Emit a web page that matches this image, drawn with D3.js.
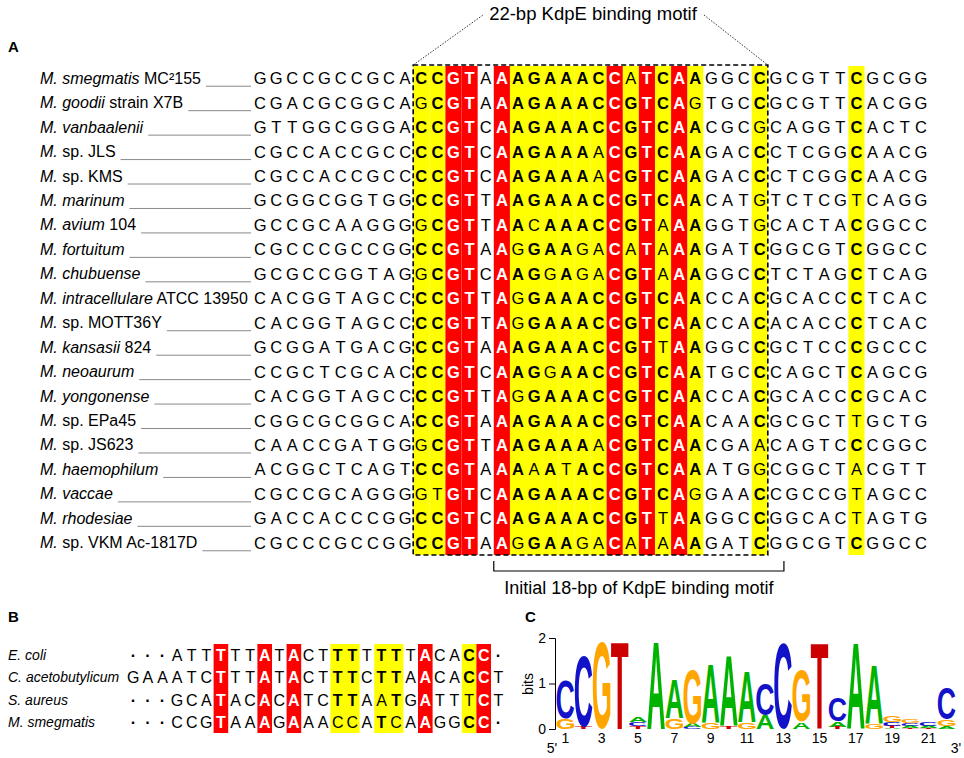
<!DOCTYPE html>
<html><head><meta charset="utf-8">
<script src="https://cdn.jsdelivr.net/npm/d3@7"></script>
<style>body{margin:0;background:#fff} svg{display:block}</style>
</head><body>
<svg id="chart" width="964" height="758"></svg>
<script>
// ---------------- Panel A data ----------------
const speciesItalic = ["M. smegmatis","M. goodii","M. vanbaalenii","M.","M.","M. marinum","M. avium","M. fortuitum","M. chubuense","M. intracellulare","M.","M. kansasii","M. neoaurum","M. yongonense","M.","M.","M. haemophilum","M. vaccae","M. rhodesiae","M."];
const strainSuffix = [" MC²155"," strain X7B",""," sp. JLS"," sp. KMS",""," 104","",""," ATCC 13950"," sp. MOTT36Y"," 824","",""," sp. EPa45"," sp. JS623","","",""," sp. VKM Ac-1817D"];
const leftFlank = ["GGCCGCCGCA","CGACGCGGCA","GTTGGCGGGA","CGCCACCGCC","CGCCACCGCC","GCGGCGGTGG","GCCGCAAGGG","CGCCCGCCGG","GCGCCGGTAG","CACGGTAGCC","CACGGTAGCC","GCGGATGACG","CCGCTCGCAC","CACGGTAGCC","CGGCGCGGCA","CAACCGATGG","ACGGCTCAGT","CGCCGCAGGG","GACCACCCGG","CGCCCGCCGG"];
const motifSeq = ["CCGTAAAGAAACCATCAAGGCC","GCGTAAAGAAACCGTCAGTGCC","CCGTCAAGAAACCGTCAACGCG","CCGTCAAGAAAACGTCAAGACC","CCGTCAAGAAAACGTCAAGACC","CCGTTAAGAAACCGTCAACATG","GCGTTAACAAACCGTAAAGGTG","CCGTAAGGAAGACATAAAGATC","GCGTCAAGGAGACGTAAAGGCC","CCGTTAGGAAACCGTCAACCAC","CCGTTAGGAAACCGTCAACCAC","CCGTAAAGAAACCGTTAAGGCC","CCGTCAAGGAACCGTCAATGCC","CCGTTAGGAAACCGTCAACCAC","CCGTAAAGAAACCGTCAACAAC","GCGTTAAGAAAACGTCAACGAA","CCGTAAAAATACCGTCAAATGG","GTGTCAAGAAACCGTCAGGAAC","CCGTCAAGAAACCGTTAAGGCC","CCGTAAGGAAGACATAAAGATC"];
const rightFlank = ["GCGTTCGCGG","GCGTTCACGG","CAGGTCACTC","CTCGGCAACG","CTCGGCAACG","TCTCGTCAGG","CACTACGGCC","GGCGTCGGCC","TCTAGCTCAG","GCACCCTCAC","ACACCCTCAC","GCTCCCGCCC","CAGCTCAGCG","GCACCCGCAC","GCGCTTGCTG","CAGTCCCGGC","CGGCTACGTT","CGCCGTAGCC","GGCACTAGTG","GGCGTCGGCC"];
const redMotifPos = [3,4,6,13,15,17];
const yellowMotifPos = [1,2,7,8,9,10,11,12,14,16,18,22];
const yellowRightPos = [6];
const consensusMotif = "CCGTNAAGAAACCGTCAANNNC";
const consensusRight = "NNNNNCNNNN";

// ---------------- Panel B data ----------------
const bNames = ["E. coli","C. acetobutylicum","S. aureus","M. smegmatis"];
const bSeqs = ["...ATTTTTATACTTTTTTTACACC.","GAAATCTTTATACTTTCTTAACACCT","...GCATACACATCTTAATGATTTCT","...CCGTAAAGAAACCATCAAGGCC."];
const bRed = [7,10,12,21,25];
const bYellow = [15,16,18,19,24];
const bConsensus = "......T..A.A..TT.TT.A..CC.";

// ---------------- Panel C data (bits) ----------------
const logoPos = d3.range(1,23);
const logoTicks = [1,3,5,7,9,11,13,15,17,19,21];
const bitsA = [0,0,0,0,0.12,1.9,0.84,0.07,1.28,1.54,1.12,0.3,0,0.15,0,0.12,1.89,1.29,0.03,0.05,0.04,0.06];
const bitsC = [0.85,1.55,0,0,0.09,0,0,0.05,0,0,0,0.7,1.89,0,0,0.53,0,0,0.08,0.05,0.07,0.69];
const bitsG = [0.22,0,1.9,0,0,0,0.24,1.2,0.13,0,0.15,0,0,1.12,0,0,0,0.12,0.13,0.08,0,0.15];
const bitsT = [0,0.05,0,1.9,0.06,0,0,0,0,0.06,0,0,0,0,1.89,0.05,0,0,0.04,0.02,0.03,0];

// =====================================================
const FONT = "'Liberation Sans', Arial, Helvetica, sans-serif";
const svg = d3.select("#chart").style("font-family", FONT);
svg.append("rect").attr("width",964).attr("height",758).attr("fill","#fff");

// panel labels
[["A",8,52],["B",8,622],["C",525,622]].forEach(([t,x,y]) => {
  svg.append("text").attr("x",x).attr("y",y).attr("font-size",15).attr("font-weight","bold").text(t);
});

// ---------- Panel A ----------
const nRows = speciesItalic.length;
const rowsA = speciesItalic.map((s,i)=>leftFlank[i]+motifSeq[i]+rightFlank[i]);
const nCols = rowsA[0].length;
const xA = d3.scaleBand().domain(d3.range(nCols)).range([252, 929]);
const yA = d3.scaleBand().domain(d3.range(nRows)).range([66, 555]);
const nL = leftFlank[0].length, nM = motifSeq[0].length;
const redCols = redMotifPos.map(p => nL + p - 1);
const yellowCols = yellowMotifPos.map(p => nL + p - 1).concat(yellowRightPos.map(q => nL + nM + q - 1));
const consensusA = "N".repeat(nL) + consensusMotif + consensusRight;
const gA = svg.append("g");
gA.selectAll("rect.y").data(yellowCols).join("rect")
  .attr("x", c => xA(c)).attr("width", xA.bandwidth())
  .attr("y", yA.range()[0]).attr("height", yA.range()[1]-yA.range()[0]).attr("fill","#ffff00");
gA.selectAll("rect.r").data(redCols).join("rect")
  .attr("x", c => xA(c)).attr("width", xA.bandwidth())
  .attr("y", yA.range()[0]).attr("height", yA.range()[1]-yA.range()[0]).attr("fill","#ff0000");
// dashed box around 22-bp motif
const boxL = xA(nL), boxR = xA(nL+nM-1)+xA.bandwidth();
gA.append("rect").attr("x",boxL).attr("y",yA.range()[0]-1).attr("width",boxR-boxL).attr("height",yA.range()[1]-yA.range()[0]+1)
  .attr("fill","none").attr("stroke","#000").attr("stroke-width",1.6).attr("stroke-dasharray","5,3");
// header
gA.append("text").attr("x",593).attr("y",20).attr("text-anchor","middle").attr("font-size",18.5).text("22-bp KdpE binding motif");
gA.append("line").attr("x1",boxL).attr("y1",yA.range()[0]-1).attr("x2",483).attr("y2",15)
  .attr("stroke","#333").attr("stroke-width",1).attr("stroke-dasharray","1.5,1.5");
gA.append("line").attr("x1",704).attr("y1",15).attr("x2",boxR).attr("y2",yA.range()[0]-1)
  .attr("stroke","#333").attr("stroke-width",1).attr("stroke-dasharray","1.5,1.5");
// letters
rowsA.forEach((seq, r) => {
  const yc = yA(r) + yA.bandwidth()/2;
  const g = gA.append("g");
  g.selectAll("text").data(seq.split("").map((ch,c)=>({ch,c}))).join("text")
    .attr("x", d => xA(d.c) + xA.bandwidth()/2)
    .attr("y", yc + 6)
    .attr("text-anchor","middle")
    .attr("font-size", 16.5)
    .attr("font-weight", d => redCols.includes(d.c) || (yellowCols.includes(d.c) && consensusA[d.c]===d.ch) ? "bold" : "normal")
    .attr("fill", d => redCols.includes(d.c) ? "#fff" : "#000")
    .text(d => d.ch);
  // name
  const t = gA.append("text").attr("x",40).attr("y",yc+5.5).attr("font-size",16);
  t.append("tspan").attr("font-style","italic").text(speciesItalic[r]);
  if (strainSuffix[r]) t.append("tspan").text(strainSuffix[r]);
  const len = t.node().getComputedTextLength();
  const x1 = 40 + len + 5;
  if (x1 < 240) {
    gA.append("line").attr("x1",x1).attr("x2",251).attr("y1",yc+8).attr("y2",yc+8)
      .attr("stroke","#8a8a8a").attr("stroke-width",1);
  }
});
// bracket: initial 18-bp
const brL = xA(nL+5), brR = xA(nL+5+18);
gA.append("path").attr("d",`M${brL},561V571H${brR}V561`).attr("fill","none").attr("stroke","#000").attr("stroke-width",1.2);
gA.append("text").attr("x",(brL+brR)/2).attr("y",594).attr("text-anchor","middle").attr("font-size",18).text("Initial 18-bp of KdpE binding motif");

// ---------- Panel B ----------
const nB = bSeqs[0].length;
const xB = d3.scaleBand().domain(d3.range(1,nB+1)).range([126, 126+nB*14.6]);
const yB = d3.scaleBand().domain(d3.range(bNames.length)).range([644, 733]);
const gB = svg.append("g");
gB.selectAll("rect.y").data(bYellow).join("rect").attr("x",c=>xB(c)).attr("width",xB.bandwidth())
  .attr("y",yB.range()[0]).attr("height",yB.range()[1]-yB.range()[0]).attr("fill","#ffff00");
gB.selectAll("rect.r").data(bRed).join("rect").attr("x",c=>xB(c)).attr("width",xB.bandwidth())
  .attr("y",yB.range()[0]).attr("height",yB.range()[1]-yB.range()[0]).attr("fill","#ff0000");
bSeqs.forEach((seq, r) => {
  const yc = yB(r) + yB.bandwidth()/2;
  gB.append("text").attr("x",8).attr("y",yc+5).attr("font-size",14).attr("font-style","italic").text(bNames[r]);
  gB.append("g").selectAll("text").data(seq.split("").map((ch,i)=>({ch,c:i+1}))).join("text")
    .attr("x", d => xB(d.c) + xB.bandwidth()/2)
    .attr("y", yc + 6)
    .attr("text-anchor","middle")
    .attr("font-size",16)
    .attr("font-weight", d => d.ch==="." || bRed.includes(d.c) || (bYellow.includes(d.c) && bConsensus[d.c-1]===d.ch) ? "bold" : "normal")
    .attr("fill", d => bRed.includes(d.c) ? "#fff" : "#000")
    .text(d => d.ch==="." ? "·" : d.ch);
});

// ---------- Panel C: sequence logo ----------
const xC = d3.scaleBand().domain(logoPos).range([556, 956]).padding(0.03);
const yC = d3.scaleLinear().domain([0,2]).range([729, 638]);
const gC = svg.append("g");
const logoColors = {A:"#00b300", C:"#1212c8", G:"#ffa500", T:"#cc0000"};
const ctx = document.createElement("canvas").getContext("2d");
ctx.font = "bold 100px 'Liberation Sans'";
const met = {};
["A","C","G","T"].forEach(l => {
  const m = ctx.measureText(l);
  met[l] = {left:m.actualBoundingBoxLeft, right:m.actualBoundingBoxRight, asc:m.actualBoundingBoxAscent, desc:m.actualBoundingBoxDescent};
});
logoPos.forEach((p,i) => {
  const stack = [["A",bitsA[i]],["C",bitsC[i]],["G",bitsG[i]],["T",bitsT[i]]].filter(d=>d[1]>0).sort((a,b)=>a[1]-b[1]);
  let base = 0;
  stack.forEach(([l,v]) => {
    const y0 = yC(base+v), y1 = yC(base);
    base += v;
    const h = y1 - y0, w = xC.bandwidth();
    if (h < 0.3) return;
    const m = met[l];
    const sx = w/(m.left+m.right), sy = h/(m.asc+m.desc);
    gC.append("text").attr("x",0).attr("y",0)
      .attr("font-size",100).attr("font-weight","bold").attr("font-family","'Liberation Sans'")
      .attr("fill",logoColors[l])
      .attr("transform",`translate(${xC(p)+m.left*sx},${y0+m.asc*sy}) scale(${sx},${sy})`)
      .text(l);
  });
});
const yAxis = gC.append("g").attr("transform","translate(555,0)")
  .call(d3.axisLeft(yC).tickValues([0,1,2]).tickFormat(d3.format("d")).tickSize(6).tickPadding(3));
yAxis.selectAll("text").attr("font-size",14).attr("font-family",FONT).attr("fill","#000");
yAxis.selectAll("path,line").attr("stroke","#000");
const xAxis = gC.append("g").attr("transform","translate(0,731)")
  .call(d3.axisBottom(xC).tickValues(logoTicks).tickSize(0).tickPadding(2));
xAxis.select(".domain").remove();
xAxis.selectAll("text").attr("font-size",14).attr("font-family",FONT).attr("fill","#000");
gC.append("text").attr("transform","translate(533,684) rotate(-90)").attr("text-anchor","middle").attr("font-size",14).text("bits");
gC.append("text").attr("x",552).attr("y",753).attr("text-anchor","middle").attr("font-size",14).text("5'");
gC.append("text").attr("x",956).attr("y",753).attr("text-anchor","middle").attr("font-size",14).text("3'");
</script>
</body></html>
